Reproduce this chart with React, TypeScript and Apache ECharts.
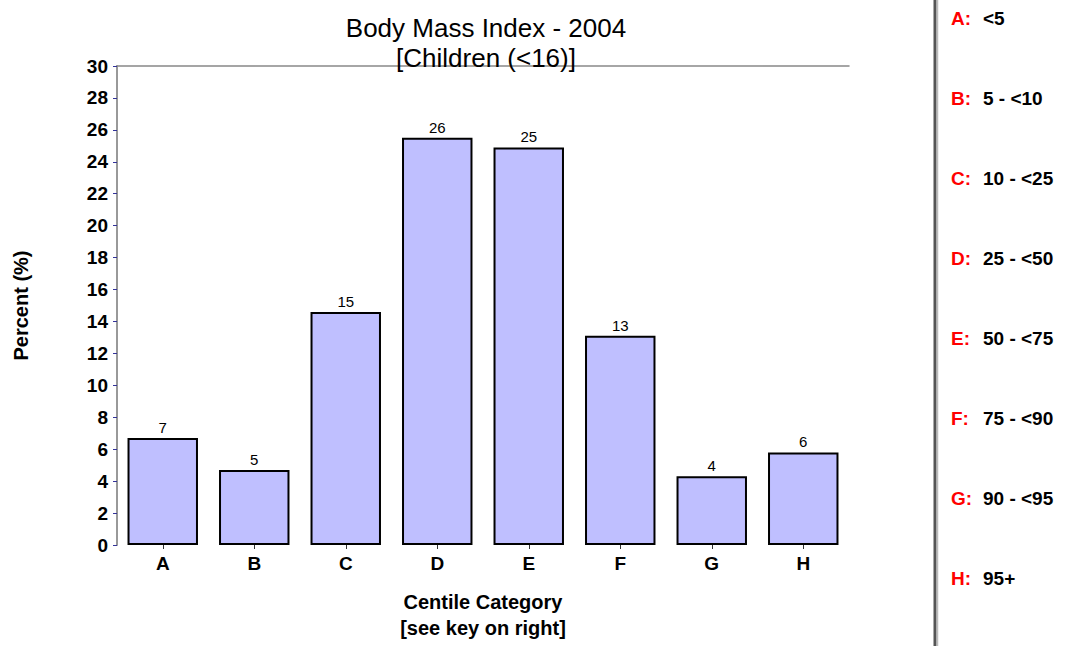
import React, { useEffect, useRef } from "react";
import * as echarts from "echarts";

const categories = ["A", "B", "C", "D", "E", "F", "G", "H"];
const percentValues = [6.7, 4.7, 14.6, 25.5, 24.9, 13.1, 4.3, 5.8];
const keyLetters = ["A:", "B:", "C:", "D:", "E:", "F:", "G:", "H:"];
const keyRanges = ["<5", "5 - <10", "10 - <25", "25 - <50", "50 - <75", "75 - <90", "90 - <95", "95+"];

const SANS = "'Liberation Sans', Arial, sans-serif";

export default function App() {
  const ref = useRef<HTMLDivElement>(null);
  useEffect(() => {
    if (!ref.current) return;
    const chart = echarts.init(ref.current, null, { renderer: "svg" });
    const keyGraphics: any[] = [];
    keyLetters.forEach((l, i) => {
      const y = 18 + i * 80;
      keyGraphics.push({
        type: "text",
        x: 951,
        y,
        style: { text: l, fill: "#ff0000", font: `bold 19px ${SANS}`, textVerticalAlign: "middle" },
      });
      keyGraphics.push({
        type: "text",
        x: 983,
        y,
        style: { text: keyRanges[i], fill: "#000", font: `bold 19px ${SANS}`, textVerticalAlign: "middle" },
      });
    });
    chart.setOption({
      animation: false,
      backgroundColor: "#ffffff",
      title: {
        text: "Body Mass Index - 2004",
        subtext: "[Children (<16)]",
        left: 481,
        textAlign: "center",
        top: 10,
        itemGap: 4,
        textStyle: { fontFamily: SANS, fontSize: 26, fontWeight: "normal", color: "#000" },
        subtextStyle: { fontFamily: SANS, fontSize: 26, color: "#000" },
      },
      grid: { left: 117, right: 219, top: 66, bottom: 98, containLabel: false },
      xAxis: [
        {
          type: "category",
          data: categories,
          axisLine: { show: false },
          axisTick: { show: true, alignWithLabel: true, length: 4, lineStyle: { color: "#333" } },
          axisLabel: { fontFamily: SANS, fontWeight: "bold", fontSize: 19, color: "#000", margin: 9 },
          name: "Centile Category\n[see key on right]",
          nameLocation: "middle",
          nameGap: 44,
          nameTextStyle: { fontFamily: SANS, fontWeight: "bold", fontSize: 20, color: "#000", lineHeight: 26 },
        },
        {
          type: "category",
          data: categories,
          position: "top",
          axisLine: { show: true, lineStyle: { color: "#888", width: 1.5 } },
          axisTick: { show: false },
          axisLabel: { show: false },
        },
      ],
      yAxis: {
        type: "value",
        min: 0,
        max: 30,
        interval: 2,
        axisLine: { show: true, lineStyle: { color: "#999", width: 2 } },
        axisTick: { show: true, length: 4, lineStyle: { color: "#333399" } },
        splitLine: { show: false },
        axisLabel: { fontFamily: SANS, fontWeight: "bold", fontSize: 19, color: "#000", margin: 9 },
        name: "Percent (%)",
        nameLocation: "middle",
        nameGap: 86,
        nameRotate: 90,
        nameTextStyle: { fontFamily: SANS, fontWeight: "bold", fontSize: 20, color: "#000" },
      },
      series: [
        {
          type: "bar",
          data: percentValues,
          barCategoryGap: "23%",
          itemStyle: { color: "#bfbfff", borderColor: "#000", borderWidth: 2 },
          label: {
            show: true,
            position: "top",
            distance: 3,
            formatter: (p: any) => String(Math.round(p.value)),
            fontFamily: SANS,
            fontSize: 15,
            color: "#000",
          },
        },
      ],
      graphic: [
        {
          type: "line",
          shape: { x1: 935, y1: 0, x2: 935, y2: 646 },
          style: { stroke: "#555", lineWidth: 3 },
        },
        {
          type: "line",
          shape: { x1: 937.5, y1: 0, x2: 937.5, y2: 646 },
          style: { stroke: "#bbb", lineWidth: 1.5 },
        },
        ...keyGraphics,
      ],
    });
    return () => chart.dispose();
  }, []);
  return (
    <div
      ref={ref}
      style={{ position: "fixed", left: 0, top: 0, width: 1068, height: 646, background: "#fff" }}
    />
  );
}
